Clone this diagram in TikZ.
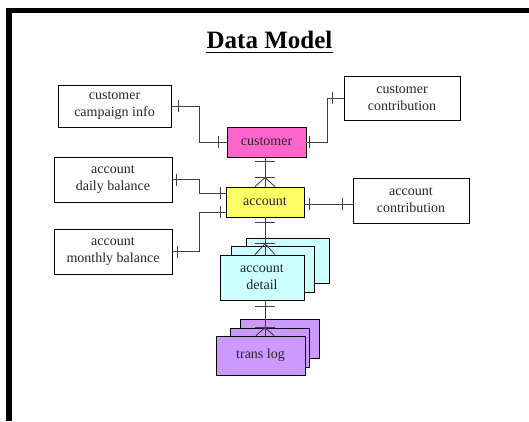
\documentclass[tikz,border=0pt]{standalone}
\usepackage{fontspec}
\setmainfont{Liberation Serif}
\usetikzlibrary{calc}
\definecolor{custpink}{HTML}{FF66CC}
\definecolor{acctyellow}{HTML}{FFFF66}
\definecolor{detcyan}{HTML}{CCFFFF}
\definecolor{logpurple}{HTML}{CC99FF}
\begin{document}
\begin{tikzpicture}[x=1pt,y=-1pt,
  entity/.style={draw=black, line width=0.8pt, align=center, inner sep=0pt,
    font=\fontsize{14}{17}\selectfont, text=black!85},
  link/.style={draw=black!75, line width=0.9pt},
]
\useasboundingbox (0,0) rectangle (529,421);
% slide frame (top and left edges)
\fill[black] (6,8) rectangle (529,13);
\fill[black] (6,8) rectangle (12,421);

% title
\node[anchor=base, inner sep=0pt, font=\fontsize{25}{30}\selectfont\bfseries] (title) at (269.5,48) {Data Model};
\draw[line width=1.4pt] ($(title.base west)+(0,4.5)$) -- ($(title.base east)+(0,4.5)$);

% entities
\node[entity, minimum width=113, minimum height=42] (cci) at (114.5,106) {customer\\campaign info};
\node[entity, minimum width=116, minimum height=44] (cc) at (402,98) {customer\\contribution};
\node[entity, fill=custpink, minimum width=79, minimum height=30] (cust) at (266.5,142) {customer};
\node[entity, minimum width=118, minimum height=45] (adb) at (113,179.5) {account\\daily balance};
\node[entity, fill=acctyellow, minimum width=78, minimum height=30] (acct) at (265,202) {account};
\node[entity, minimum width=116, minimum height=45] (acon) at (411,200.5) {account\\contribution};
\node[entity, minimum width=118, minimum height=45] (amb) at (113,251.5) {account\\monthly balance};

% account detail stack
\node[entity, fill=detcyan, minimum width=83, minimum height=45] (det3) at (287.5,260.5) {};
\node[entity, fill=detcyan, minimum width=83, minimum height=46] (det2) at (272.5,269) {};
\node[entity, fill=detcyan, minimum width=84, minimum height=45] (det) at (262,277.5) {account\\detail};

% trans log stack
\node[entity, fill=logpurple, minimum width=79, minimum height=39] (tl3) at (279.5,338.5) {};
\node[entity, fill=logpurple, minimum width=79, minimum height=39] (tl2) at (269.5,347.5) {};
\node[entity, fill=logpurple, minimum width=89, minimum height=39] (tl) at (260.5,355.5) {trans log};

% customer campaign info -- customer
\draw[link] (cci.east) -- ++(28,0) |- (cust.west);
\draw[link] ($(cci.east)+(7,-6)$) -- ++(0,12);
\draw[link] ($(cust.west)+(-8,-6)$) -- ++(0,12);

% customer -- customer contribution
\draw[link] (cust.east) -- ++(21,0) |- (cc.west);
\draw[link] ($(cust.east)+(3,-6)$) -- ++(0,12);
\draw[link] ($(cc.west)+(-11,-6)$) -- ++(0,12);

% account daily balance -- account
\draw[link] (adb.east) -- ++(27,0) |- ($(acct.west)+(0,-9)$);
\draw[link] ($(adb.east)+(4,-6)$) -- ++(0,12);
\draw[link] ($(acct.west)+(-5,-15)$) -- ++(0,12);

% account monthly balance -- account
\draw[link] (amb.east) -- ++(27,0) |- ($(acct.west)+(0,10)$);
\draw[link] ($(amb.east)+(5,-6)$) -- ++(0,12);
\draw[link] ($(acct.west)+(-5,4)$) -- ++(0,12);

% account -- account contribution
\draw[link] ($(acct.east)+(0,2)$) -- ($(acon.west |- acct.east)+(0,2)$);
\draw[link] ($(acct.east)+(5,-4)$) -- ++(0,12);
\draw[link] ($(acon.west |- acct.east)+(-10,-4)$) -- ++(0,12);

% customer -- account (one to many)
\draw[link] (cust.south -| acct.north) -- (acct.north);
\draw[link] ($(cust.south -| acct.north)+(-10,4)$) -- ++(20,0);
\draw[link] ($(acct.north)+(-10,-9)$) -- ++(20,0);
\draw[link] ($(acct.north)+(-10,0)$) -- ($(acct.north)+(0,-9)$) -- ($(acct.north)+(10,0)$);

% account -- account detail (one to many)
\coordinate (dtop) at (acct.south |- det.north);
\draw[link] (acct.south) -- (dtop);
\draw[link] ($(acct.south)+(-10,5)$) -- ++(20,0);
\draw[link] ($(dtop)+(-10,-11)$) -- ++(20,0);
\draw[link] ($(dtop)+(-10,0)$) -- ($(dtop)+(0,-11)$) -- ($(dtop)+(10,0)$);

% account detail -- trans log (one to many)
\coordinate (dbot) at (acct.south |- det.south);
\coordinate (ttop) at (acct.south |- tl.north);
\draw[link] (dbot) -- (ttop);
\draw[link] ($(dbot)+(-10,6)$) -- ++(20,0);
\draw[link] ($(ttop)+(-10,-8)$) -- ++(20,0);
\draw[link] ($(ttop)+(-9,0)$) -- ($(ttop)+(0,-8)$) -- ($(ttop)+(9,0)$);
\end{tikzpicture}
\end{document}
